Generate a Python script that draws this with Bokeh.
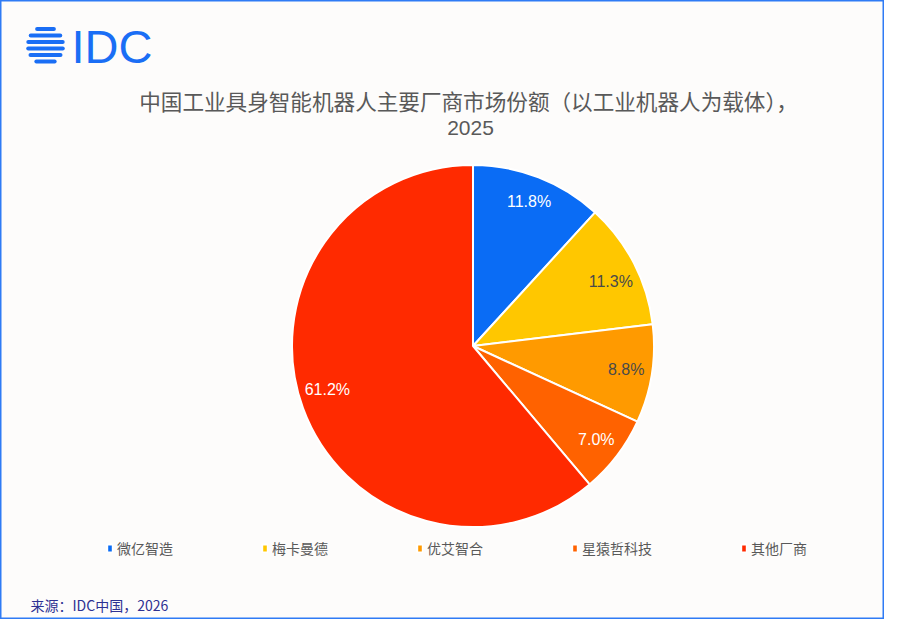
import math
from bokeh.plotting import figure
from bokeh.models import Range1d, ColumnDataSource, Legend, LegendItem
from bokeh.core.properties import value
from bokeh.embed import file_html
from bokeh.resources import INLINE

# ---- data ----
vendors = ["微亿智造", "梅卡曼德", "优艾智合", "星猿哲科技", "其他厂商"]
shares = [11.8, 11.3, 8.8, 7.0, 61.2]
title_line1 = "中国工业具身智能机器人主要厂商市场份额（以工业机器人为载体），"
title_line2 = "2025"
source_text = "来源：IDC中国，2026"

# ---- styles ----
colors = ["#0A6CF5", "#FFC700", "#FF9A00", "#FF6200", "#FF2A00"]
label_colors = ["#FFFFFF", "#4A4A4A", "#4A4A4A", "#FFFFFF", "#FFFFFF"]
BG = "#FDFCFB"
W, H = 884, 619

def Y(yref):
    return H - yref

p = figure(width=W, height=H, output_backend="svg", toolbar_location=None,
           x_range=Range1d(0, W), y_range=Range1d(0, H),
           min_border=0, background_fill_color=BG, border_fill_color=BG)
p.axis.visible = False
p.grid.visible = False
p.outline_line_color = "#2F7BF5"
p.outline_line_width = 2

# ---- pie ----
cx, cy, R = 472.5, Y(345.5), 181
LABEL_R, LABEL_FS, MAX_CORNER = 155, 16, 176
char_w = {".": 0.278, "%": 0.889}

def text_halfwidth(s):
    return sum(char_w.get(c, 0.556) for c in s) * LABEL_FS / 2

total = sum(shares)
starts, ends, lx, ly, labels = [], [], [], [], []
cum = 0.0
for s in shares:
    a0 = math.pi / 2 - 2 * math.pi * cum / total
    a1 = math.pi / 2 - 2 * math.pi * (cum + s) / total
    starts.append(a0)
    ends.append(a1)
    mid = (a0 + a1) / 2
    lab = f"{s:.1f}%"
    x = cx + LABEL_R * math.cos(mid)
    y = cy + LABEL_R * math.sin(mid)
    # keep the label box inside the pie: slide vertically toward the centre line
    hw, hh = text_halfwidth(lab), LABEL_FS / 2
    dx = abs(x - cx) + hw
    dy = abs(y - cy) + hh
    if dx * dx + dy * dy > MAX_CORNER ** 2 and dx < MAX_CORNER:
        new_dy = math.sqrt(MAX_CORNER ** 2 - dx * dx)
        shift = dy - new_dy
        y = y - shift if y > cy else y + shift
    lx.append(x)
    ly.append(y)
    labels.append(lab)
    cum += s

src = ColumnDataSource(dict(vendor=vendors, share=shares, start=starts, end=ends,
                            color=colors, lx=lx, ly=ly, label=labels, lc=label_colors))
wedges = p.wedge(x=cx, y=cy, radius=R, start_angle="start", end_angle="end",
                 direction="clock", fill_color="color", line_color="white",
                 line_width=2, source=src)
p.text(x="lx", y="ly", text="label", text_color="lc", source=src,
       text_align="center", text_baseline="middle",
       text_font=value("Liberation Sans"), text_font_size=f"{LABEL_FS}px")

# ---- title ----
p.text(x=[468], y=[Y(100)], text=[title_line1], text_align="center", text_baseline="middle",
       text_font=value("Noto Sans CJK SC"), text_font_size="21.6px", text_color="#595959")
p.text(x=[470], y=[Y(127)], text=[title_line2], text_align="center", text_baseline="middle",
       text_font=value("Liberation Sans"), text_font_size="21px", text_color="#595959")

# ---- IDC logo ----
gcx, gcy, gr = 45, 45, 19.5
x0s, x1s, ys = [], [], []
for i in range(6):
    yy = 28.5 + 6.5 * i
    dy = abs(yy - gcy)
    half = math.sqrt(max(gr * gr - dy * dy, 0)) - 2
    x0s.append(gcx - half)
    x1s.append(gcx + half)
    ys.append(Y(yy))
p.segment(x0=x0s, y0=ys, x1=x1s, y1=ys, line_color="#1A6EF5", line_width=4,
          line_cap="round")
p.text(x=[71], y=[Y(46)], text=["IDC"], text_align="left", text_baseline="middle",
       text_font=value("Liberation Sans"), text_font_size="47px", text_color="#1A6EF5")

# ---- source ----
p.text(x=[30], y=[Y(604)], text=[source_text], text_align="left", text_baseline="middle",
       text_font=value("Noto Sans CJK SC"), text_font_size="14px", text_color="#2E3192")

# ---- legend ----
items = [LegendItem(label=v, renderers=[wedges], index=i) for i, v in enumerate(vendors)]
legend = Legend(items=items, orientation="horizontal", location=(106, Y(548) - 10),
                glyph_width=7, glyph_height=10, label_standoff=4, spacing=88,
                padding=0, margin=0, border_line_color=None, background_fill_alpha=0,
                label_text_font="Noto Sans CJK SC", label_text_font_size="14px",
                label_text_color="#595959", label_height=20)
p.add_layout(legend, "center")

open("out.html", "w").write(file_html(p, INLINE))
